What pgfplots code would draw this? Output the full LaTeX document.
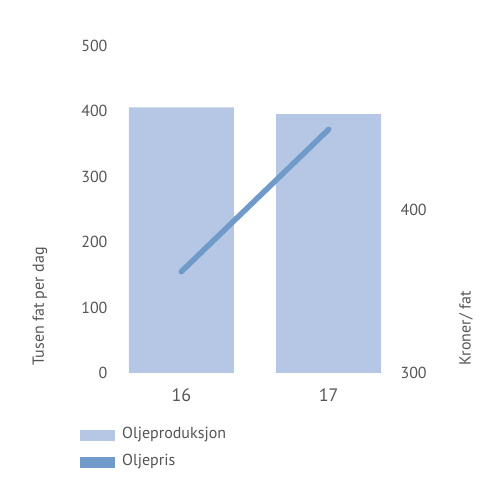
\documentclass[border=0pt]{standalone}
\usepackage{fontspec}
\setmainfont{PT Sans}
\usepackage{pgfplots}
\pgfplotsset{compat=1.18}
\definecolor{barblue}{HTML}{B6C7E5}
\definecolor{lineblue}{HTML}{6F9AC9}
\definecolor{txtgray}{HTML}{555555}
\begin{document}
\begin{tikzpicture}
\path[use as bounding box] (0pt,0pt) rectangle (500pt,500pt);
\pgfplotsset{
  common/.style={
    at={(115pt,127pt)}, anchor=south west,
    scale only axis, width=280pt, height=327pt,
    xmin=-0.45, xmax=1.45,
    axis line style={draw=none},
    tick style={draw=none},
    ticklabel style={font=\fontsize{16}{16}\selectfont, text=txtgray},
    /pgf/number format/assume math mode=true,
  }
}
\begin{axis}[common,
  ymin=0, ymax=500, ytick={0,100,...,500},
  yticklabel style={xshift=-4pt},
  xtick={0,1}, xticklabels={16,17},
  xticklabel style={yshift=-12pt, font=\fontsize{18}{18}\selectfont},
  bar width=105pt,
]
\addplot[ybar, fill=barblue, draw=none] coordinates {(0,406) (1,396)};
\end{axis}
\begin{axis}[common,
  ymin=300, ymax=500, ytick={300,400},
  axis y line*=right, axis x line=none,
  yticklabel style={xshift=2pt},
]
\addplot[lineblue, line width=5.5pt, line cap=round] coordinates {(0,362) (1,449)};
\end{axis}
\node[rotate=90, anchor=west, text=txtgray, font=\fontsize{16}{16}\selectfont] at (40pt,131pt) {Tusen fat per dag};
\node[rotate=90, anchor=west, text=txtgray, font=\fontsize{16}{16}\selectfont] at (466pt,131pt) {Kroner/ fat};
\fill[barblue] (80pt,59pt) rectangle (115pt,70pt);
\fill[lineblue] (80pt,32pt) rectangle (115pt,43pt);
\node[anchor=west, text=txtgray, font=\fontsize{16}{16}\selectfont, inner sep=0pt] at (122pt,65pt) {Oljeproduksjon};
\node[anchor=west, text=txtgray, font=\fontsize{16}{16}\selectfont, inner sep=0pt] at (122pt,38pt) {Oljepris};
\end{tikzpicture}
\end{document}
